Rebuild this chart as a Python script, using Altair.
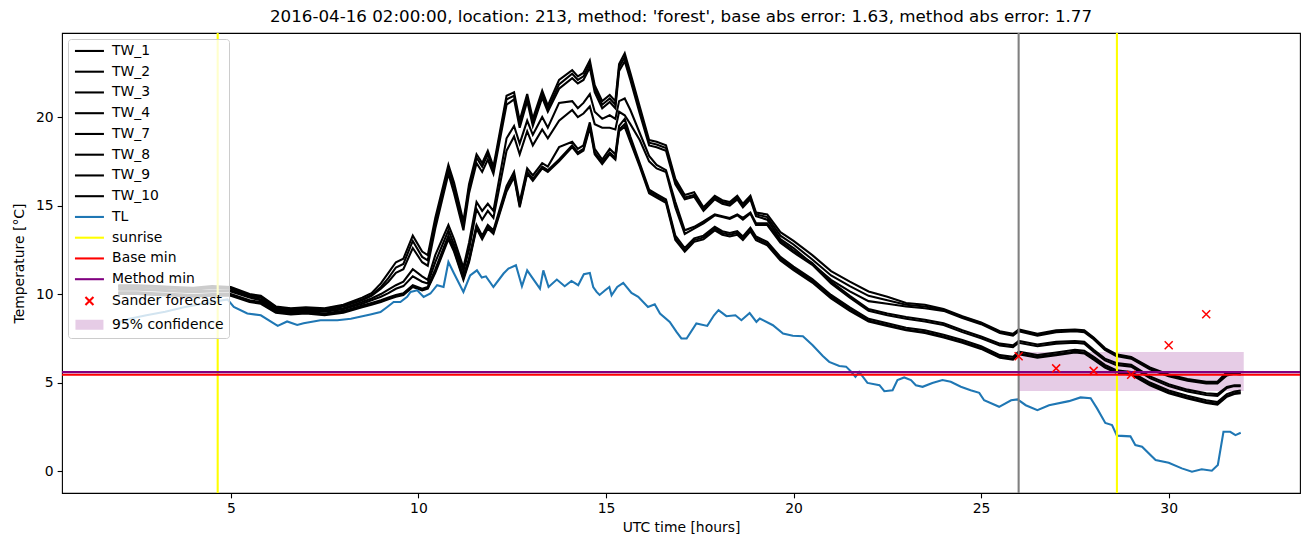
import altair as alt
import pandas as pd

TITLE = "2016-04-16 02:00:00, location: 213, method: 'forest', base abs error: 1.63, method abs error: 1.77"

tw_hours = [2.0, 2.5, 3.0, 3.5, 4.0, 4.5, 5.0, 5.5, 5.8, 6.2, 6.6, 7.0, 7.5, 8.0, 8.5, 8.75, 9.0, 9.2, 9.4, 9.6,
            9.85, 10.1, 10.25, 10.45, 10.8, 10.95, 11.2, 11.35, 11.55, 11.7, 11.85, 12.0, 12.35, 12.55, 12.7, 12.9,
            13.05, 13.3, 13.45, 13.75, 14.1, 14.25, 14.4, 14.57, 14.7, 14.9, 15.1, 15.25, 15.35, 15.5, 15.65, 15.9,
            16.15, 16.35, 16.6, 16.85, 17.1, 17.35, 17.6, 17.9, 18.1, 18.3, 18.5, 18.65, 18.85, 19.0, 19.3, 19.65,
            20.0, 20.5, 21.0, 21.5, 22.0, 22.5, 23.0, 23.5, 24.0, 24.5, 25.0, 25.5, 25.85, 26.0, 26.5, 27.0, 27.5,
            27.75, 28.0, 28.3, 28.6, 29.0, 29.5, 30.0, 30.5, 31.0, 31.3, 31.55, 31.75, 31.92]

tw_1 = [10.5, 10.5, 10.45, 10.4, 10.35, 10.45, 10.4, 10.0, 9.9, 9.3, 9.2, 9.25, 9.2, 9.4, 9.8, 10.05, 10.6, 11.2, 11.8, 12.0,
        13.3, 12.4, 12.2, 14.3, 17.3, 16.3, 14.1, 16.2, 17.9, 17.4, 18.1, 17.2, 21.2, 21.4, 19.8, 21.3,
        19.9, 21.5, 20.65, 22.1, 22.65, 22.3, 22.5, 23.2, 21.8, 20.9, 21.25, 20.9, 23.0, 23.6, 22.5, 20.6,
        18.7, 18.6, 18.4, 16.5, 15.6, 15.75, 14.9, 15.55, 15.3, 15.2, 15.55, 15.1, 15.55, 14.6, 14.5, 13.5,
        13.0, 12.2, 11.3, 10.7, 10.15, 9.85, 9.5, 9.4, 9.15, 8.75, 8.4, 7.9, 7.75, 8.0, 7.75, 7.95, 8.0,
        7.95, 7.55, 6.95, 6.6, 6.45, 5.85, 5.45, 5.2, 5.05, 5.05, 5.6, 5.6, 5.6]
tw_2 = [10.45, 10.45, 10.4, 10.35, 10.3, 10.4, 10.35, 9.95, 9.85, 9.25, 9.15, 9.2, 9.15, 9.35, 9.7, 9.95, 10.4, 10.9, 11.5, 11.7,
        13.0, 12.1, 11.9, 14.0, 17.1, 16.0, 13.9, 16.0, 17.7, 17.2, 17.9, 17.0, 21.0, 21.2, 19.6, 21.1,
        19.7, 21.3, 20.45, 21.85, 22.45, 22.1, 22.3, 23.0, 21.6, 20.7, 21.05, 20.7, 22.8, 23.4, 22.3, 20.4,
        18.55, 18.45, 18.25, 16.35, 15.45, 15.6, 14.8, 15.45, 15.2, 15.1, 15.45, 15.0, 15.45, 14.5, 14.35, 13.3,
        12.8, 11.95, 11.05, 10.45, 9.9, 9.65, 9.4, 9.3, 9.1, 8.7, 8.35, 7.85, 7.7, 7.95, 7.7, 7.9, 7.95,
        7.9, 7.5, 6.9, 6.55, 6.4, 5.8, 5.4, 5.15, 5.0, 5.0, 5.5, 5.55, 5.5]
tw_3 = [10.4, 10.4, 10.35, 10.3, 10.25, 10.35, 10.3, 9.9, 9.8, 9.2, 9.1, 9.15, 9.1, 9.3, 9.65, 9.9, 10.3, 10.7, 11.2, 11.4,
        12.6, 11.8, 11.6, 13.7, 16.8, 15.7, 13.6, 15.7, 17.4, 16.9, 17.6, 16.8, 20.7, 21.0, 19.4, 20.9,
        19.5, 21.1, 20.3, 21.6, 22.2, 21.9, 22.1, 22.8, 21.4, 20.5, 20.85, 20.5, 22.6, 23.15, 22.1, 20.2,
        18.4, 18.3, 18.1, 16.2, 15.35, 15.5, 14.7, 15.35, 15.1, 15.0, 15.35, 14.9, 15.35, 14.4, 14.2, 13.1,
        12.6, 11.7, 10.8, 10.15, 9.6, 9.45, 9.3, 9.2, 9.05, 8.65, 8.3, 7.8, 7.65, 7.9, 7.65, 7.85, 7.9,
        7.85, 7.45, 6.85, 6.5, 6.35, 5.75, 5.35, 5.1, 4.95, 4.95, 5.4, 5.5, 5.45]
tw_4 = [10.3, 10.3, 10.25, 10.2, 10.15, 10.2, 10.2, 9.85, 9.7, 9.15, 9.05, 9.1, 9.05, 9.2, 9.55, 9.75, 10.0, 10.25, 10.5, 10.7,
        11.4, 11.0, 10.8, 12.2, 13.9, 13.1, 11.5, 12.9, 15.2, 14.7, 15.1, 14.7, 18.8, 19.5, 18.5, 19.8,
        19.0, 20.0, 19.4, 20.8, 20.9, 20.5, 20.8, 21.3, 20.3, 19.9, 20.1, 19.9, 20.9, 21.05, 20.4, 19.1,
        17.8, 17.3, 17.0, 15.2, 13.6, 13.8, 14.1, 14.5, 14.4, 14.3, 14.5, 14.3, 14.6, 14.0, 14.0, 13.0,
        12.45, 11.75, 10.7, 9.9, 9.15, 8.9, 8.7, 8.55, 8.35, 7.95, 7.6, 7.2, 7.1, 7.35, 7.15, 7.3, 7.35,
        7.3, 6.85, 6.35, 6.1, 6.0, 5.35, 4.9, 4.6, 4.4, 4.35, 4.75, 4.85, 4.85]
tw_7 = [10.25, 10.25, 10.2, 10.15, 10.1, 10.15, 10.15, 9.8, 9.65, 9.1, 9.0, 9.05, 9.0, 9.15, 9.45, 9.65, 9.85, 10.05, 10.3, 10.45,
        11.0, 10.7, 10.6, 11.8, 13.6, 12.8, 11.3, 12.5, 14.8, 14.2, 14.7, 14.3, 18.1, 18.9, 17.9, 19.2,
        18.4, 19.3, 18.8, 19.8, 20.4, 20.0, 20.2, 20.6, 19.6, 19.4, 19.4, 19.3, 20.3, 20.1, 19.6, 18.7,
        17.5, 17.1, 16.9, 14.9, 13.4, 13.7, 14.0, 14.45, 14.35, 14.25, 14.45, 14.2, 14.55, 13.9, 13.9, 12.9,
        12.35, 11.65, 10.6, 9.8, 9.05, 8.8, 8.6, 8.45, 8.25, 7.85, 7.5, 7.1, 7.0, 7.25, 7.05, 7.2, 7.25,
        7.2, 6.75, 6.25, 6.0, 5.9, 5.25, 4.8, 4.5, 4.3, 4.25, 4.7, 4.8, 4.8]
tw_8 = [10.1, 10.1, 10.05, 10.0, 9.95, 10.0, 10.0, 9.65, 9.55, 9.05, 8.95, 9.0, 8.9, 9.05, 9.35, 9.5, 9.65, 9.8, 9.95, 10.05,
        10.5, 10.3, 10.4, 11.4, 13.3, 12.6, 11.0, 12.0, 13.9, 13.3, 13.9, 13.6, 16.1, 16.9, 15.2, 17.1,
        16.7, 17.4, 17.2, 18.3, 18.6, 18.2, 18.4, 19.7, 18.2, 17.6, 18.2, 17.9, 19.5, 19.9, 18.9, 17.4,
        15.9, 15.65, 15.35, 13.3, 12.6, 13.15, 13.3, 13.8, 13.55, 13.45, 13.55, 13.25, 13.75, 13.25, 12.95, 12.1,
        11.55, 10.85, 9.95, 9.25, 8.6, 8.35, 8.1, 7.95, 7.7, 7.4, 7.05, 6.55, 6.45, 6.75, 6.55, 6.7, 6.85,
        6.8, 6.45, 6.0, 5.7, 5.6, 5.0, 4.55, 4.25, 4.0, 3.9, 4.35, 4.5, 4.55]
tw_9 = [10.05, 10.05, 10.0, 9.95, 9.9, 9.95, 9.95, 9.6, 9.5, 9.0, 8.9, 8.95, 8.85, 9.0, 9.3, 9.45, 9.6, 9.75, 9.9, 10.0,
        10.45, 10.25, 10.35, 11.3, 13.2, 12.5, 10.9, 11.9, 13.8, 13.2, 13.8, 13.5, 15.9, 16.7, 15.0, 16.9,
        16.5, 17.2, 17.0, 17.6, 18.4, 18.0, 18.2, 19.5, 18.0, 17.45, 18.0, 17.7, 19.3, 19.6, 18.7, 17.3,
        15.8, 15.55, 15.25, 13.15, 12.45, 13.05, 13.2, 13.7, 13.45, 13.35, 13.45, 13.15, 13.65, 13.15, 12.85, 12.0,
        11.45, 10.75, 9.85, 9.15, 8.5, 8.25, 8.0, 7.85, 7.6, 7.3, 6.95, 6.45, 6.35, 6.65, 6.45, 6.6, 6.75,
        6.7, 6.35, 5.9, 5.6, 5.5, 4.9, 4.45, 4.15, 3.9, 3.8, 4.25, 4.4, 4.45]
tw_10 = [10.0, 10.0, 9.95, 9.9, 9.85, 9.9, 9.9, 9.55, 9.45, 8.95, 8.85, 8.9, 8.8, 8.95, 9.25, 9.4, 9.55, 9.7, 9.85, 9.95,
         10.4, 10.2, 10.3, 11.2, 13.1, 12.4, 10.8, 11.8, 13.7, 13.1, 13.7, 13.4, 15.8, 16.6, 14.9, 16.8,
         16.4, 17.1, 16.9, 17.5, 18.3, 17.9, 18.1, 19.4, 17.9, 17.35, 17.9, 17.6, 19.2, 19.45, 18.6, 17.2,
         15.7, 15.45, 15.15, 13.05, 12.4, 12.95, 13.1, 13.6, 13.35, 13.25, 13.35, 13.05, 13.55, 13.05, 12.75, 11.9,
         11.35, 10.65, 9.75, 9.05, 8.45, 8.2, 7.95, 7.8, 7.55, 7.25, 6.9, 6.4, 6.3, 6.6, 6.4, 6.55, 6.7,
         6.65, 6.3, 5.85, 5.55, 5.45, 4.85, 4.4, 4.1, 3.85, 3.75, 4.2, 4.35, 4.4]

tl_hours = [2.0, 2.3, 2.75, 3.25, 3.75, 4.25, 4.91, 5.08, 5.44, 5.8, 6.25, 6.5, 6.77, 6.94, 7.39, 7.84, 8.2, 8.72, 8.99,
            9.17, 9.34, 9.52, 9.7, 9.79, 9.97, 10.14, 10.32, 10.5, 10.67, 10.8, 10.94, 11.2, 11.38, 11.56, 11.69,
            11.8, 12.0, 12.27, 12.4, 12.6, 12.76, 12.9, 13.02, 13.24, 13.33, 13.47, 13.69, 13.9, 14.08, 14.26,
            14.41, 14.57, 14.66, 14.75, 14.83, 14.97, 15.09, 15.15, 15.3, 15.46, 15.68, 15.86, 16.12, 16.3, 16.44,
            16.7, 16.88, 17.01, 17.15, 17.41, 17.7, 17.88, 18.0, 18.21, 18.45, 18.61, 18.83, 19.01, 19.1, 19.45,
            19.72, 19.98, 20.25, 20.51, 20.78, 20.95, 21.22, 21.4, 21.53, 21.65, 21.75, 21.97, 22.29, 22.42,
            22.64, 22.77, 22.95, 23.13, 23.26, 23.44, 23.7, 23.97, 24.19, 24.46, 24.72, 24.95, 25.08, 25.48,
            25.8, 25.97, 26.19, 26.5, 26.81, 27.34, 27.65, 27.92, 28.09, 28.31, 28.49, 28.62, 28.98, 29.11,
            29.29, 29.65, 30.0, 30.35, 30.62, 30.88, 31.15, 31.31, 31.46, 31.64, 31.78, 31.92]
tl_values = [8.4, 8.6, 8.8, 9.0, 9.25, 9.45, 9.7, 9.27, 8.9, 8.8, 8.2, 8.45, 8.25, 8.35, 8.52, 8.52, 8.6, 8.85, 8.98,
             9.27, 9.55, 9.55, 9.84, 10.12, 10.21, 9.84, 10.03, 10.5, 10.4, 11.81, 11.2, 10.12, 11.06, 11.34, 10.93,
             11.0, 10.4, 11.16, 11.44, 11.63, 10.44, 11.34, 10.97, 10.31, 11.34, 10.4, 10.82, 10.44, 10.74, 10.5,
             11.12, 11.19, 10.4, 10.12, 9.95, 10.2, 10.4, 9.93, 10.4, 10.63, 10.06, 9.84, 9.27, 9.42, 8.9,
             8.43, 7.86, 7.49, 7.49, 8.34, 8.2, 8.8, 9.09, 8.75, 8.8, 8.52, 8.93, 8.43, 8.62, 8.24,
             7.77, 7.64, 7.62, 7.11, 6.5, 6.17, 5.94, 5.9, 5.63, 5.32, 5.6, 4.98, 4.85, 4.51,
             4.57, 5.14, 5.29, 5.14, 4.85, 4.76, 4.98, 5.14, 5.04, 4.76, 4.57, 4.42, 4.0, 3.63,
             4.0, 4.05, 3.72, 3.44, 3.72, 3.95, 4.16, 4.12, 3.54, 2.72, 2.6, 2.0, 1.96, 1.47,
             1.37, 0.62, 0.47, 0.15, -0.04, 0.1, 0.02, 0.34, 2.22, 2.22, 2.03, 2.16]

sunrise_hours = [4.65, 28.62]
forecast_time = [26.0]
base_min = [5.44]
method_min = [5.59]
sander_hours = [26.0, 27.0, 28.0, 29.0, 30.0, 31.0]
sander_values = [6.49, 5.80, 5.66, 5.44, 7.11, 8.86]
conf_hours = [26.0, 32.0]
conf_bounds = [4.53, 6.73]

legend_names = ["TW_1", "TW_2", "TW_3", "TW_4", "TW_7", "TW_8", "TW_9", "TW_10", "TL", "sunrise",
                "Base min", "Method min", "Sander forecast", "95% confidence"]
legend_colors = ["black"] * 8 + ["#1f77b4", "yellow", "red", "purple", "red", "#e6cce6"]
LINE = "M-2.9,0H2.9"
CROSS = "M-0.8,-0.8L0.8,0.8M-0.8,0.8L0.8,-0.8"
PATCH = "M-2.8,-0.8H2.8M-2.8,-0.4H2.8M-2.8,0H2.8M-2.8,0.4H2.8M-2.8,0.8H2.8"
legend_shapes = [LINE] * 12 + [CROSS, PATCH]

FONT = "DejaVu Sans"
FS = 13.9

tw_series = {"TW_1": tw_1, "TW_2": tw_2, "TW_3": tw_3, "TW_4": tw_4,
             "TW_7": tw_7, "TW_8": tw_8, "TW_9": tw_9, "TW_10": tw_10}
tw_df = pd.concat([pd.DataFrame({"t": tw_hours, "v": vals, "series": name})
                   for name, vals in tw_series.items()], ignore_index=True)
tl_df = pd.DataFrame({"t": tl_hours, "v": tl_values})
sun_df = pd.DataFrame({"t": sunrise_hours})
now_df = pd.DataFrame({"t": forecast_time})
base_df = pd.DataFrame({"v": base_min})
meth_df = pd.DataFrame({"v": method_min})
sander_df = pd.DataFrame({"t": sander_hours, "v": sander_values})
conf_df = pd.DataFrame({"t": [conf_hours[0]], "t2": [conf_hours[1]],
                        "v": [conf_bounds[0]], "v2": [conf_bounds[1]]})
leg_df = pd.DataFrame({"name": legend_names})

axis_style = dict(labelFont=FONT, titleFont=FONT, labelFontSize=FS, titleFontSize=FS, labelColor="black",
                  titleColor="black", titleFontWeight="normal", tickColor="black", tickWidth=1.1,
                  tickSize=4.86, domain=False, grid=False, labelPadding=4)
xscale = alt.Scale(domain=[0.5, 33.5], nice=False, zero=False)
yscale = alt.Scale(domain=[-1.24, 24.75], nice=False, zero=False)
xaxis = alt.Axis(values=[5, 10, 15, 20, 25, 30], format="d", title="UTC time [hours]",
                 titlePadding=5, **axis_style)
yaxis = alt.Axis(values=[0, 5, 10, 15, 20], format="d", title="Temperature [°C]",
                 titlePadding=9, **axis_style)
X = alt.X("t:Q", scale=xscale, axis=xaxis)
Y = alt.Y("v:Q", scale=yscale, axis=yaxis)

band = alt.Chart(conf_df).mark_rect(color="purple", opacity=0.2).encode(
    x=X, x2="t2:Q", y=Y, y2="v2:Q")
tw_lines = alt.Chart(tw_df).mark_line(color="black", strokeWidth=2.08).encode(
    x=X, y=Y, detail="series:N", order="t:Q")
tl_line = alt.Chart(tl_df).mark_line(color="#1f77b4", strokeWidth=2.08).encode(x=X, y=Y, order="t:Q")
sun_rules = alt.Chart(sun_df).mark_rule(color="yellow", strokeWidth=2.08).encode(x=X)
now_rule = alt.Chart(now_df).mark_rule(color="grey", strokeWidth=2.08).encode(x=X)
base_rule = alt.Chart(base_df).mark_rule(color="red", strokeWidth=2.08).encode(y=Y)
meth_rule = alt.Chart(meth_df).mark_rule(color="purple", strokeWidth=2.08).encode(y=Y)
sander_pts = alt.Chart(sander_df).mark_point(
    shape="M-1,-1L1,1M-1,1L1,-1", size=64, color="red", strokeWidth=1.5, opacity=1).encode(x=X, y=Y)

leg = alt.Legend(title=None, orient="top-left", offset=6, padding=5, rowPadding=5.75,
                 fillColor="rgba(255,255,255,0.8)", strokeColor="#cccccc", cornerRadius=3,
                 labelFont=FONT, labelFontSize=FS, labelColor="black", labelLimit=400,
                 symbolSize=100, symbolStrokeWidth=2.08, symbolOffset=9.5, labelOffset=15.7)
legend_layer = alt.Chart(leg_df).mark_point(size=100, clip=True, opacity=1, filled=False).encode(
    x=alt.value(-400), y=alt.value(-400),
    color=alt.Color("name:N", scale=alt.Scale(domain=legend_names, range=legend_colors), legend=leg,
                    sort=legend_names),
    shape=alt.Shape("name:N", scale=alt.Scale(domain=legend_names, range=legend_shapes), legend=leg,
                    sort=legend_names),
)

chart = alt.layer(band, tw_lines, tl_line, sun_rules, now_rule, base_rule, meth_rule, sander_pts,
                  legend_layer).properties(
    width=1238, height=460,
    title=alt.TitleParams(TITLE, fontSize=16.7, font=FONT, fontWeight="normal", color="black",
                          anchor="middle", offset=6),
    autosize=alt.AutoSizeParams(type="none"),
    padding={"left": 62, "top": 33, "right": 10, "bottom": 54},
).configure(background="white").configure_view(stroke="black", strokeWidth=1.1)

chart.save("out.html", embed_options={"renderer": "svg", "actions": False})
